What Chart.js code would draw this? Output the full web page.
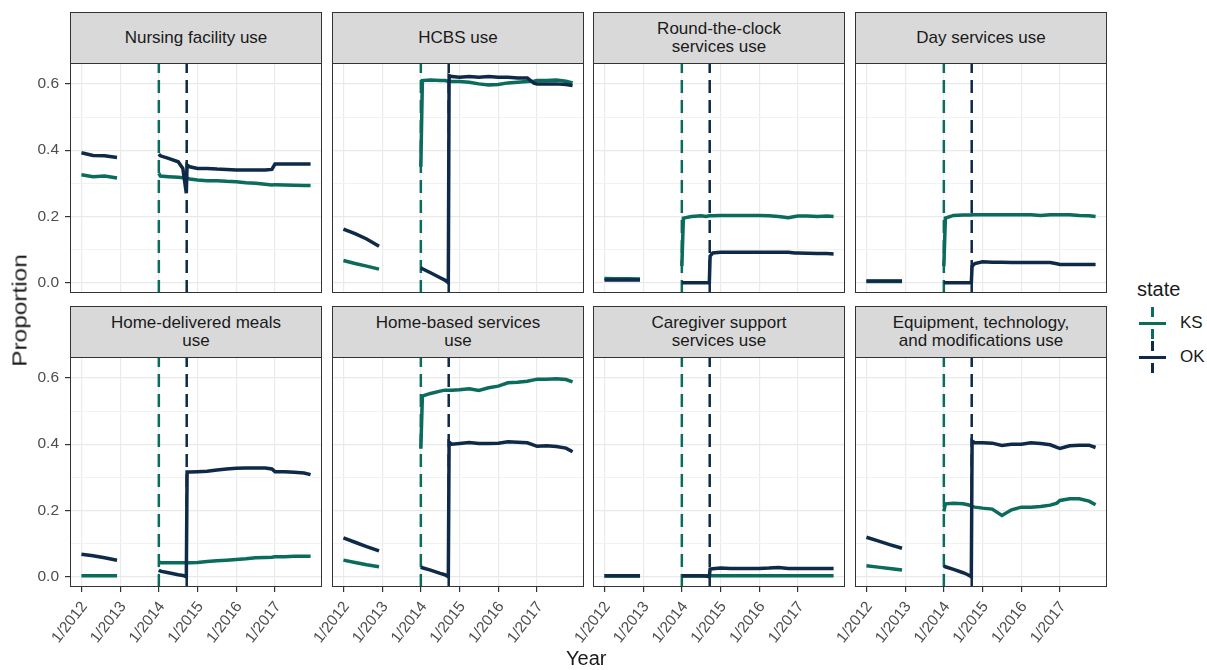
<!DOCTYPE html>
<html>
<head>
<meta charset="utf-8">
<script src="https://cdn.jsdelivr.net/npm/chart.js@4.4.1/dist/chart.umd.min.js"></script>
<style>
  body { margin: 0; background: #fff; font-family: "Liberation Sans", Arial, sans-serif; }
  #wrap { position: relative; width: 1207px; height: 670px; overflow: hidden; }
  #wrap canvas { position: absolute; }
  .strip {
    position: absolute; box-sizing: border-box;
    background: #d9d9d9; border: 1px solid #333; border-bottom: none;
    display: flex; align-items: center; justify-content: center; text-align: center;
    font-size: 17px; line-height: 18px; color: #1a1a1a;
  }
  .frame { position: absolute; box-sizing: border-box; border: 1px solid #333; pointer-events: none; }
  .txt { position: absolute; color: #1a1a1a; white-space: nowrap; }
</style>
</head>
<body>
<div id="wrap"></div>
<script>
// time points (decimal years), shared by every series; null = no data
const years = [2012.0, 2012.3, 2012.6, 2012.92, 2013.5,
  2014.0, 2014.04, 2014.25, 2014.5, 2014.62, 2014.71, 2014.73, 2014.8,
  2015.0, 2015.25, 2015.5, 2015.75, 2016.0, 2016.25, 2016.5, 2016.75, 2016.92,
  2017.0, 2017.25, 2017.5, 2017.75, 2017.92];
const tickYears = [2012, 2013, 2014, 2015, 2016, 2017];
const yGrid = [0, 0.1, 0.2, 0.3, 0.4, 0.5, 0.6];

const panelTitles = [
  'Nursing facility use', 'HCBS use', 'Round-the-clock<br>services use', 'Day services use',
  'Home-delivered meals<br>use', 'Home-based services<br>use', 'Caregiver support<br>services use',
  'Equipment, technology,<br>and modifications use',
];

const okNursing = [0.392, 0.384, 0.383, 0.378, null, 0.388, 0.383, 0.375, 0.365, 0.345, 0.27, 0.355, 0.350, 0.345, 0.345, 0.343, 0.342, 0.340, 0.340, 0.340, 0.340, 0.342, 0.358, 0.358, 0.358, 0.358, 0.358];
const ksNursing = [0.326, 0.320, 0.322, 0.316, null, 0.330, 0.322, 0.320, 0.318, 0.317, 0.315, 0.315, 0.313, 0.310, 0.308, 0.308, 0.306, 0.305, 0.302, 0.300, 0.297, 0.295, 0.296, 0.295, 0.294, 0.293, 0.293];
const okHcbs = [0.162, 0.148, 0.132, 0.110, null, 0.045, 0.042, 0.030, 0.015, 0.008, 0.0, 0.625, 0.622, 0.620, 0.622, 0.620, 0.622, 0.620, 0.620, 0.618, 0.618, 0.602, 0.600, 0.600, 0.600, 0.598, 0.595];
const ksHcbs = [0.067, 0.058, 0.050, 0.041, null, 0.35, 0.610, 0.612, 0.610, 0.610, 0.608, 0.608, 0.607, 0.607, 0.605, 0.600, 0.597, 0.598, 0.603, 0.605, 0.607, 0.608, 0.610, 0.610, 0.612, 0.608, 0.603];
const okClock = [0.008, 0.008, 0.008, 0.008, null, 0.0, 0.0, 0.0, 0.0, 0.0, 0.0, 0.08, 0.09, 0.092, 0.092, 0.092, 0.092, 0.092, 0.092, 0.092, 0.092, 0.09, 0.09, 0.089, 0.088, 0.088, 0.087];
const ksClock = [0.013, 0.012, 0.012, 0.011, null, 0.05, 0.195, 0.200, 0.202, 0.200, 0.202, 0.202, 0.202, 0.203, 0.203, 0.203, 0.203, 0.203, 0.202, 0.200, 0.196, 0.200, 0.201, 0.201, 0.200, 0.201, 0.200];
const okDay = [0.005, 0.005, 0.005, 0.005, null, 0.0, 0.0, 0.0, 0.0, 0.0, 0.0, 0.05, 0.058, 0.063, 0.062, 0.062, 0.061, 0.061, 0.061, 0.061, 0.061, 0.057, 0.055, 0.055, 0.055, 0.055, 0.055];
const ksDay = [0.004, 0.004, 0.004, 0.004, null, 0.05, 0.195, 0.203, 0.204, 0.204, 0.204, 0.205, 0.205, 0.205, 0.205, 0.205, 0.205, 0.205, 0.205, 0.203, 0.205, 0.205, 0.205, 0.205, 0.203, 0.202, 0.200];
const okMeals = [0.068, 0.063, 0.057, 0.050, null, 0.020, 0.017, 0.012, 0.006, 0.004, 0.0, 0.316, 0.316, 0.317, 0.318, 0.322, 0.325, 0.327, 0.328, 0.328, 0.328, 0.325, 0.317, 0.317, 0.315, 0.313, 0.308];
const ksMeals = [0.003, 0.003, 0.003, 0.003, null, 0.045, 0.042, 0.042, 0.042, 0.042, 0.042, 0.042, 0.042, 0.043, 0.046, 0.048, 0.050, 0.052, 0.054, 0.057, 0.058, 0.059, 0.060, 0.060, 0.062, 0.062, 0.062];
const okHome = [0.117, 0.104, 0.091, 0.078, null, 0.030, 0.027, 0.020, 0.010, 0.006, 0.0, 0.406, 0.400, 0.402, 0.405, 0.402, 0.402, 0.403, 0.407, 0.406, 0.404, 0.397, 0.394, 0.395, 0.393, 0.388, 0.377];
const ksHome = [0.050, 0.043, 0.036, 0.030, null, 0.386, 0.545, 0.553, 0.560, 0.563, 0.563, 0.563, 0.563, 0.564, 0.567, 0.562, 0.570, 0.575, 0.585, 0.587, 0.590, 0.594, 0.596, 0.596, 0.597, 0.595, 0.588];
const okCare = [0.003, 0.003, 0.003, 0.003, null, 0.003, 0.003, 0.003, 0.003, 0.002, 0.0, 0.023, 0.024, 0.026, 0.025, 0.025, 0.025, 0.025, 0.026, 0.028, 0.025, 0.025, 0.025, 0.025, 0.025, 0.025, 0.025];
const ksCare = [0.002, 0.002, 0.002, 0.002, null, 0.002, 0.002, 0.002, 0.002, 0.002, 0.003, 0.003, 0.003, 0.003, 0.003, 0.003, 0.003, 0.003, 0.003, 0.003, 0.003, 0.003, 0.003, 0.003, 0.003, 0.003, 0.003];
const okEquip = [0.119, 0.108, 0.097, 0.086, null, 0.033, 0.030, 0.022, 0.012, 0.006, 0.0, 0.409, 0.404, 0.404, 0.403, 0.396, 0.400, 0.400, 0.404, 0.402, 0.398, 0.390, 0.387, 0.395, 0.397, 0.397, 0.390];
const ksEquip = [0.033, 0.029, 0.025, 0.020, null, 0.197, 0.220, 0.222, 0.220, 0.217, 0.214, 0.212, 0.210, 0.207, 0.204, 0.185, 0.202, 0.210, 0.210, 0.212, 0.216, 0.222, 0.230, 0.235, 0.235, 0.228, 0.217];

const okSeries = [okNursing, okHcbs, okClock, okDay, okMeals, okHome, okCare, okEquip];
const ksSeries = [ksNursing, ksHcbs, ksClock, ksDay, ksMeals, ksHome, ksCare, ksEquip];

// policy start dates (dashed vertical lines)
const policyKS = 2014.0;
const policyOK = 2014.72;

const KS_COLOR = '#0b6b5c';
const OK_COLOR = '#0e2a48';
const X_MIN = 2011.705, X_MAX = 2018.215;
const Y_MIN = -0.031, Y_MAX = 0.663;

const COL_LEFT = [70, 332, 593, 855];
const PANEL_W = 252;
const STRIP_TOP = [12, 306];
const STRIP_H = 51;
const PLOT_H = 230;

const wrap = document.getElementById('wrap');
const isMajor = v => Math.round(v * 10) % 2 === 0;
const toPoints = arr => years.map((x, i) => ({ x, y: arr[i] }));

// fix the axis box size and drop the extra label padding so every panel lines up
const fixBox = (w, h) => s => {
  if (w !== null) s.width = w;
  if (h !== null) s.height = h;
  s.paddingTop = s.paddingBottom = s.paddingLeft = s.paddingRight = 0;
};

function addDiv(cls, style, html) {
  const d = document.createElement('div');
  d.className = cls;
  Object.assign(d.style, style);
  if (html !== undefined) d.innerHTML = html;
  wrap.appendChild(d);
  return d;
}

function buildPanel(i) {
  const row = Math.floor(i / 4), col = i % 4;
  const plotLeft = COL_LEFT[col];
  const plotTop = STRIP_TOP[row] + STRIP_H;
  const padL = col === 0 ? 70 : 45;   // inner panels keep room so rotated labels aren't clipped
  const padB = row === 1 ? 84 : 0;

  addDiv('strip', { left: plotLeft + 'px', top: STRIP_TOP[row] + 'px', width: PANEL_W + 'px', height: STRIP_H + 'px' }, panelTitles[i]);

  const cv = document.createElement('canvas');
  cv.width = PANEL_W + padL;
  cv.height = PLOT_H + padB;
  cv.style.left = (plotLeft - padL) + 'px';
  cv.style.top = plotTop + 'px';
  wrap.appendChild(cv);

  addDiv('frame', { left: plotLeft + 'px', top: plotTop + 'px', width: PANEL_W + 'px', height: PLOT_H + 'px' });

  const tickFont = { family: '"Liberation Sans", Arial, sans-serif', size: 15.5 };

  new Chart(cv, {
    type: 'line',
    data: {
      datasets: [
        { label: 'OK', data: toPoints(okSeries[i]), borderColor: OK_COLOR, borderWidth: 3.5, pointRadius: 0, spanGaps: false, order: 0 },
        { label: 'KS', data: toPoints(ksSeries[i]), borderColor: KS_COLOR, borderWidth: 3.5, pointRadius: 0, spanGaps: false, order: 1 },
        { label: 'OK start', data: [{ x: policyOK, y: Y_MIN }, { x: policyOK, y: Y_MAX }], borderColor: OK_COLOR, borderWidth: 2.5, borderDash: [13, 7], pointRadius: 0, order: 2 },
        { label: 'KS start', data: [{ x: policyKS, y: Y_MIN }, { x: policyKS, y: Y_MAX }], borderColor: KS_COLOR, borderWidth: 2.5, borderDash: [13, 7], pointRadius: 0, order: 3 },
      ],
    },
    options: {
      responsive: false,
      animation: false,
      events: [],
      layout: { padding: 0 },
      plugins: { legend: { display: false }, tooltip: { enabled: false } },
      scales: {
        x: {
          type: 'linear', min: X_MIN, max: X_MAX,
          afterBuildTicks: s => { s.ticks = tickYears.map(v => ({ value: v })); },
          afterFit: fixBox(null, padB),
          border: { display: false },
          grid: { color: '#ebebeb', lineWidth: 1.2, drawTicks: row === 1, tickLength: 5, tickColor: '#333' },
          ticks: {
            display: row === 1, autoSkip: false, minRotation: 52, maxRotation: 52,
            padding: 6, labelOffset: 3, color: '#4d4d4d', font: tickFont,
            callback: v => '1/' + v,
          },
        },
        y: {
          min: Y_MIN, max: Y_MAX,
          afterBuildTicks: s => { s.ticks = yGrid.map(v => ({ value: v })); },
          afterFit: fixBox(padL, null),
          border: { display: false },
          grid: {
            color: ctx => isMajor(ctx.tick.value) ? '#e9e9e9' : '#f2f2f2',
            lineWidth: ctx => isMajor(ctx.tick.value) ? 1.2 : 1,
            drawTicks: col === 0, tickLength: 5,
            tickColor: ctx => isMajor(ctx.tick.value) ? '#333' : 'rgba(0,0,0,0)',
          },
          ticks: {
            display: col === 0, padding: 6, color: '#4d4d4d', font: tickFont,
            callback: v => isMajor(v) ? v.toFixed(1) : '',
          },
        },
      },
    },
  });
}

for (let i = 0; i < 8; i++) buildPanel(i);

// axis titles
addDiv('txt', { left: '566px', top: '647px', fontSize: '20px' }, 'Year');
addDiv('txt', {
  left: '-40px', top: '299px', fontSize: '20px', width: '120px', textAlign: 'center',
  transform: 'rotate(-90deg) scaleX(1.22)',
}, 'Proportion');

// legend
addDiv('txt', { left: '1137px', top: '278px', fontSize: '20px' }, 'state');
[['KS', KS_COLOR, 323], ['OK', OK_COLOR, 357]].forEach(([name, color, cy]) => {
  addDiv('', { position: 'absolute', left: '1139px', top: (cy - 1.5) + 'px', width: '27px', height: '3px', background: color });
  addDiv('', {
    position: 'absolute', left: '1151px', top: (cy - 16) + 'px', width: '3px', height: '32px',
    background: `repeating-linear-gradient(to bottom, ${color} 0 10px, transparent 10px 22px)`,
  });
  addDiv('txt', { left: '1180px', top: (cy - 10) + 'px', fontSize: '17px' }, name);
});
</script>
</body>
</html>
